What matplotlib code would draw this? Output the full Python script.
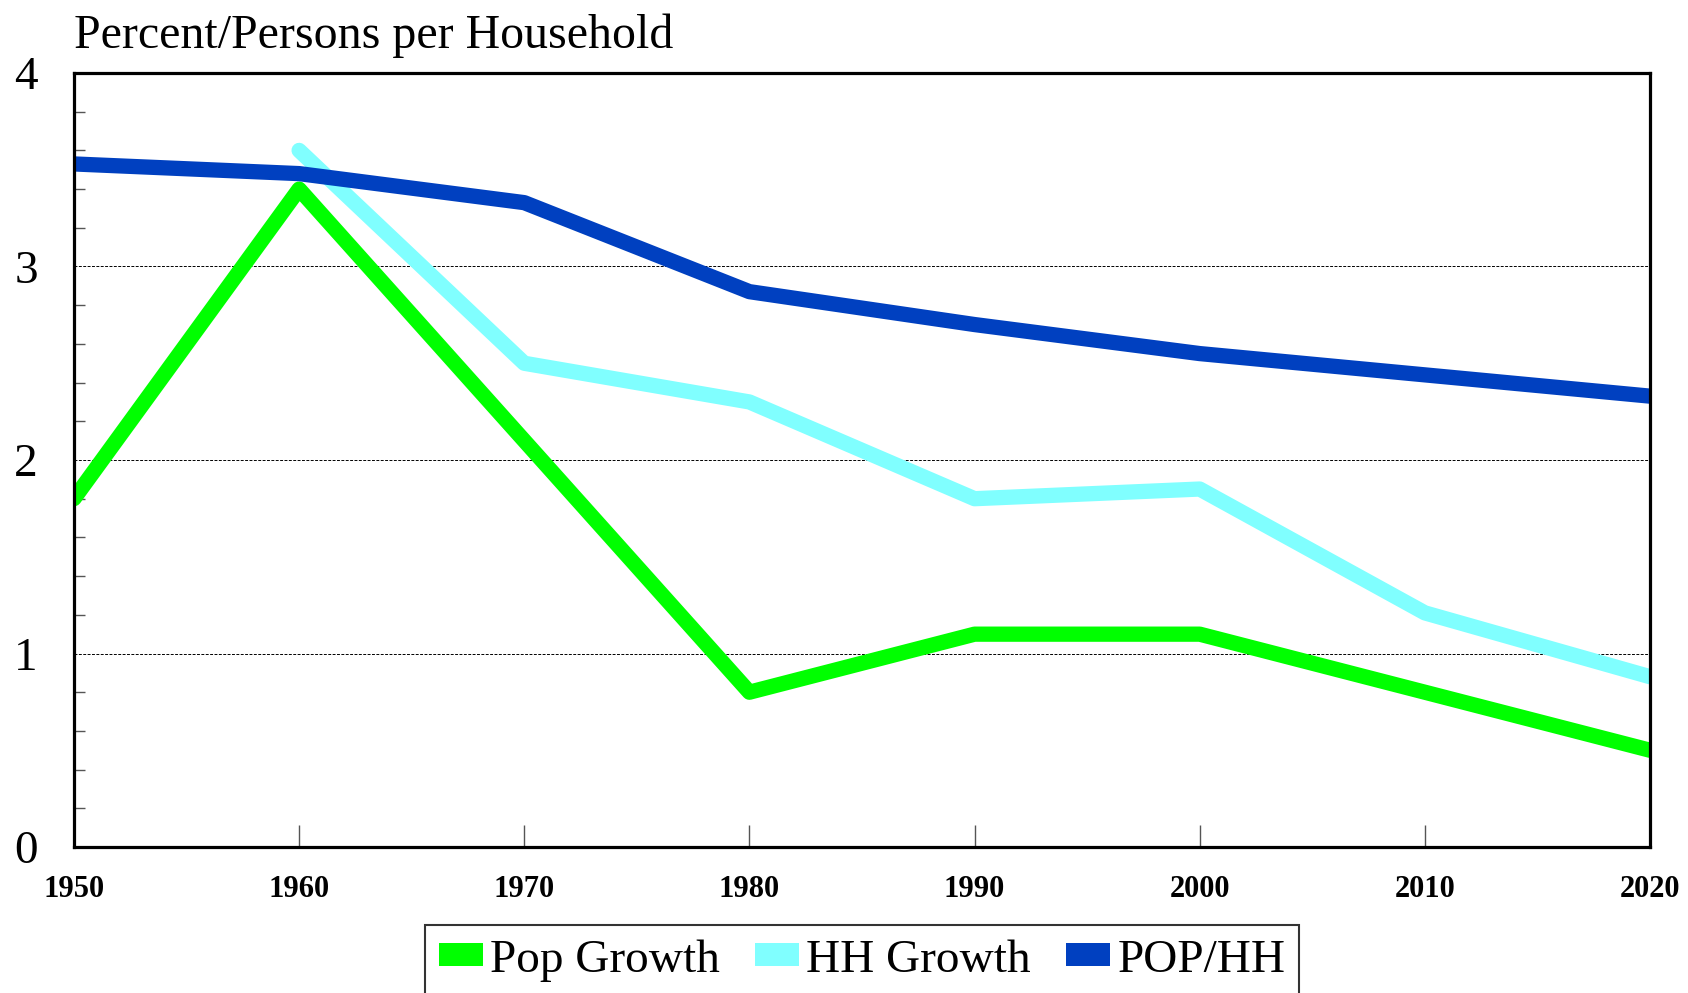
import numpy as np
import matplotlib.pyplot as plt
from matplotlib.ticker import MultipleLocator
from matplotlib.patches import Patch

years = [1950, 1960, 1970, 1980, 1990, 2000, 2010, 2020]
pop_growth = [1.8, 3.4, 2.1, 0.8, 1.1, 1.1, 0.8, 0.5]
hh_years = [1960, 1970, 1980, 1990, 2000, 2010, 2020]
hh_growth = [3.6, 2.5, 2.3, 1.8, 1.85, 1.21, 0.88]
pop_per_hh = [3.53, 3.48, 3.33, 2.87, 2.70, 2.55, 2.44, 2.33]

labels = ['Pop Growth', 'HH Growth', 'POP/HH']
colors = ['#00ff00', '#80ffff', '#0040c0']

plt.rcParams['font.family'] = ['Liberation Serif', 'DejaVu Serif']

fig = plt.figure(figsize=(16.88, 9.93), dpi=100)
ax = fig.add_axes([0.0438, 0.147, 0.9337, 0.7795])

line_kw = dict(lw=11, solid_capstyle='round', solid_joinstyle='round')
ax.plot(years, pop_growth, color=colors[0], **line_kw)
ax.plot(hh_years, hh_growth, color=colors[1], **line_kw)
ax.plot(years, pop_per_hh, color=colors[2], **line_kw)

ax.set_xlim(1950, 2020)
ax.set_ylim(0, 4)
ax.set_xticks(years)
ax.yaxis.set_major_locator(MultipleLocator(1))
ax.yaxis.set_minor_locator(MultipleLocator(0.2))

ax.grid(axis='y', which='major', color='black', ls=(0, (3, 1.5)), lw=0.7)
for s in ax.spines.values():
    s.set_linewidth(2.3)

ax.tick_params(axis='x', direction='in', length=16, width=1, color='#555555',
               labelsize=22, pad=20)
ax.tick_params(axis='y', which='major', direction='in', length=0, labelsize=34, pad=26)
ax.tick_params(axis='y', which='minor', direction='in', length=8, width=1, color='#555555')
for t in ax.get_xticklabels():
    t.set_fontweight('bold')

fig.text(0.0438, 0.952, 'Percent/Persons per Household', fontsize=34.5, va='baseline', ha='left')

handles = [Patch(facecolor=c, edgecolor='none') for c in colors]
leg = fig.legend(handles, labels, loc='upper center', bbox_to_anchor=(0.5107, 0.0685),
                 ncol=3, fontsize=34, frameon=True, fancybox=False, edgecolor='black',
                 handlelength=0.93, handleheight=0.38, handletextpad=0.15, columnspacing=0.75,
                 borderpad=0.3, borderaxespad=0)
leg.get_frame().set_linewidth(1.5)

fig.savefig('out.png', dpi=100)
